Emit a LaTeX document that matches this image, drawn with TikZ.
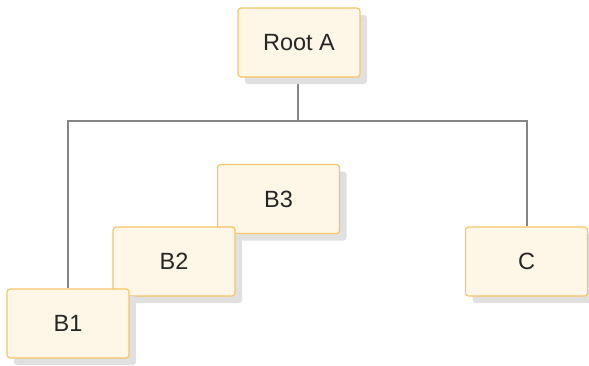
\documentclass[tikz,border=0pt]{standalone}
\usepackage{fontspec}
\setmainfont{Liberation Sans}
\usepackage{tikz}
\usetikzlibrary{shadows,backgrounds}
\definecolor{crema}{HTML}{FEF6E6}
\definecolor{arancio}{HTML}{F7C467}
\definecolor{grigio}{HTML}{858585}
\begin{document}
\begin{tikzpicture}[x=1pt, y=-1pt, font=\fontsize{23.5}{27}\selectfont,
    box/.style={draw=arancio, line width=1.2pt, fill=crema, rounded corners=3pt,
        minimum width=122pt, minimum height=69pt, inner sep=2pt, text=black!85,
        drop shadow={shadow xshift=7pt, shadow yshift=-7pt, fill=black!12, opacity=1}},
    conn/.style={draw=grigio, line width=2pt}]
        \useasboundingbox (0,0) rectangle (589,365);
        % Nodi
        \node[box] (rootA) at (299,42.5) {Root A};
        \node[box] (C) at (526.5,261.5) {C};
        \foreach \nome/\x/\y in {B3/278.5/199, B2/174/261.5, B1/68/323.5}
            {
                \node[box] (\nome) at (\x,\y) {\nome};
            }
        % Collegamenti
        \coordinate (bus) at (298,121);
        \begin{scope}[on background layer]
            \draw[conn] (rootA.south -| bus) -- (bus);
            \draw[conn] (B1.north) |- (bus) -| (C.north);
        \end{scope}
    \end{tikzpicture}
\end{document}
